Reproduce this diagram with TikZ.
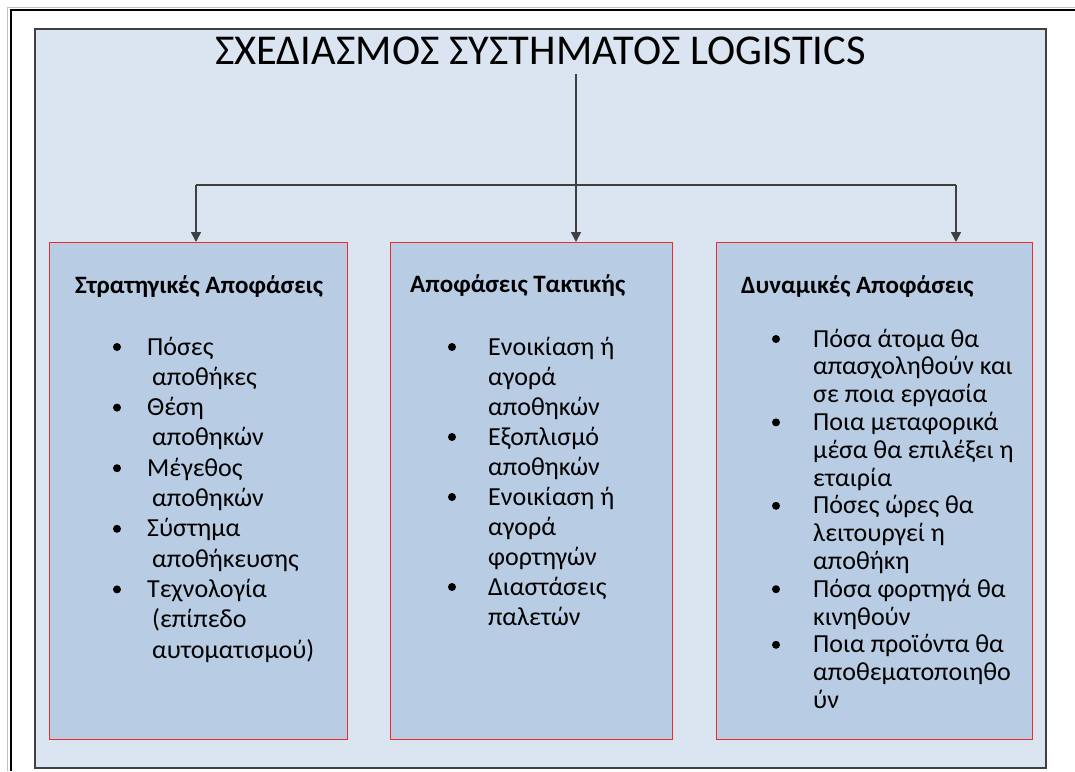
\documentclass[tikz,border=0pt]{standalone}
\usepackage{fontspec}
\setmainfont{Carlito}
\usetikzlibrary{arrows.meta, positioning, calc}
\definecolor{panelblue}{HTML}{DBE5F1}
\definecolor{boxblue}{HTML}{B8CCE4}
\definecolor{boxred}{HTML}{EE2A2A}
\definecolor{linegray}{HTML}{404040}

\begin{document}
\begin{tikzpicture}[x=1pt, y=-1pt,
    decision/.style={draw=boxred, fill=boxblue, line width=1.4pt, inner sep=0pt, anchor=north west},
    heading/.style={anchor=base west, inner sep=0pt, font=\fontsize{25}{30}\selectfont\bfseries},
    item/.style={anchor=base west, inner sep=0pt, font=\fontsize{26}{30}\selectfont},
    link/.style={linegray, line width=1.5pt},
    arrowlink/.style={link, -{Triangle[length=10pt, width=10pt]}}]
    \useasboundingbox (0,0) rectangle (1075,771);

    % Page frame and background panel
    \draw[gray!50, line width=0.8pt] (7.5,771) -- (7.5,7) -- (1075,7);
    \draw[black, line width=2pt] (10.5,771) -- (10.5,9.5) -- (1075,9.5);
    \filldraw[fill=panelblue, draw=linegray, line width=1.3pt] (35,29) rectangle (1046,768);

    % Title
    \node[font=\fontsize{42.5}{46}\selectfont, anchor=base, inner xsep=0pt, inner ysep=10pt] (title) at (540.5,64) {ΣΧΕΔΙΑΣΜΟΣ ΣΥΣΤΗΜΑΤΟΣ LOGISTICS};

    % The three decision boxes
    \node[decision, minimum width=298pt, minimum height=497pt] (strat) at (49,242) {};
    \node[decision, minimum width=282pt, minimum height=497pt] (tact) at (390,242) {};
    \node[decision, minimum width=316pt, minimum height=497pt] (dyn) at (716,242) {};

    % Connectors
    \coordinate (hubL) at (196,185);
    \coordinate (hubM) at (576,185);
    \coordinate (hubR) at (956,185);
    \draw[link] (title.south -| hubM) -- (hubM);
    \draw[link] (hubL) -- (hubR);
    \draw[arrowlink] (hubL) -- (hubL |- strat.north);
    \draw[arrowlink] (hubM) -- (hubM |- tact.north);
    \draw[arrowlink] (hubR) -- (hubR |- dyn.north);

    % Headings
    \node[heading] (stratHead) at (75,293) {Στρατηγικές Αποφάσεις};
    \node[heading] (tactHead) at (410,292) {Αποφάσεις Τακτικής};
    \node[heading] (dynHead) at (741,293) {Δυναμικές Αποφάσεις};

    % Strategic decisions
    \foreach \t [count=\i from 0] in {{Πόσες}, {\hspace{5pt}αποθήκες}, {Θέση}, {\hspace{5pt}αποθηκών}, {Μέγεθος}, {\hspace{5pt}αποθηκών}, {Σύστημα}, {\hspace{5pt}αποθήκευσης}, {Τεχνολογία}, {\hspace{5pt}(επίπεδο}, {\hspace{5pt}αυτοματισμού)}}
        \node[item] at (147, 355+30.3*\i) {\t};
    \foreach \i in {0,2,4,6,8}
        \fill (117, 347+30.3*\i) circle (4pt);

    % Tactical decisions
    \foreach \t [count=\i from 0] in {{Ενοικίαση ή}, {αγορά}, {αποθηκών}, {Εξοπλισμό}, {αποθηκών}, {Ενοικίαση ή}, {αγορά}, {φορτηγών}, {Διαστάσεις}, {παλετών}}
        \node[item] at (488, 355+30*\i) {\t};
    \foreach \i in {0,3,5,8}
        \fill (452, 347+30*\i) circle (4pt);

    % Dynamic decisions
    \foreach \t [count=\i from 0] in {{Πόσα άτομα θα}, {απασχοληθούν και}, {σε ποια εργασία}, {Ποια μεταφορικά}, {μέσα θα επιλέξει η}, {εταιρία}, {Πόσες ώρες θα}, {λειτουργεί η}, {αποθήκη}, {Πόσα φορτηγά θα}, {κινηθούν}, {Ποια προϊόντα θα}, {αποθεματοποιηθο}, {ύν}}
        \node[item] at (813, 347+27.8*\i) {\t};
    \foreach \i in {0,3,6,9,11}
        \fill (776, 339+27.8*\i) circle (4pt);
\end{tikzpicture}
\end{document}
